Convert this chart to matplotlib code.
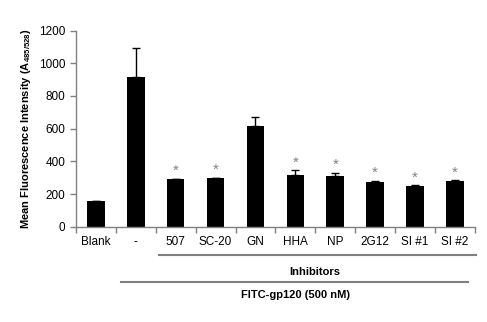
import matplotlib.pyplot as plt
from matplotlib.transforms import blended_transform_factory

plt.rcParams['font.family'] = ['Liberation Sans', 'DejaVu Sans']

categories = ["Blank", "-", "507", "SC-20", "GN", "HHA", "NP", "2G12", "SI #1", "SI #2"]
means = [157, 918, 290, 296, 618, 315, 310, 276, 251, 278]
errors = [0, 176, 3, 1, 52, 30, 19, 4, 2, 6]
significant = [False, False, True, True, False, True, True, True, True, True]

fig = plt.figure(figsize=(4.87, 3.22), dpi=100)
ax = fig.add_axes([0.156, 0.296, 0.819, 0.609])

x = list(range(len(categories)))
ax.bar(x, means, width=0.44, color="black", zorder=2)
ax.errorbar(x, means, yerr=[[0] * len(errors), errors], fmt="none",
            ecolor="black", elinewidth=1, capsize=3, capthick=1, zorder=3)

for xi, m, e, s in zip(x, means, errors, significant):
    if s:
        ax.text(xi, m + e + 6, "*", ha="center", va="bottom",
                fontsize=11, color="#808080")

ax.set_xlim(-0.5, len(categories) - 0.5)
ax.set_ylim(0, 1200)
ax.set_yticks(range(0, 1201, 200))
ax.set_xticks([i - 0.5 for i in range(len(categories) + 1)])
ax.set_xticklabels([])
ax.set_xticks(x, minor=True)
ax.set_xticklabels(categories, minor=True)
ax.tick_params(axis="x", which="major", direction="out", length=4,
               color="#808080", width=1)
ax.tick_params(axis="x", which="minor", length=0, pad=7, labelsize=8.5)
ax.tick_params(axis="y", direction="out", length=4, color="#808080",
               width=1, labelsize=8.5)

for side in ["top", "right"]:
    ax.spines[side].set_visible(False)
for side in ["left", "bottom"]:
    ax.spines[side].set_color("#808080")
    ax.spines[side].set_linewidth(1)

ax.set_ylabel("Mean Fluorescence Intensity (A$_{\\mathregular{485/528}}$)",
              fontsize=8, fontweight="bold", labelpad=4)

trans = blended_transform_factory(ax.transData, ax.transAxes)
ax.plot([1.58, 9.53], [-0.144, -0.144], color="#808080", lw=1.5,
        transform=trans, clip_on=False)
ax.text(5.49, -0.23, "Inhibitors", ha="center", va="center", fontsize=8,
        fontweight="bold", transform=trans)
ax.plot([0.63, 9.32], [-0.281, -0.281], color="#808080", lw=1.5,
        transform=trans, clip_on=False)
ax.text(5.0, -0.348, "FITC-gp120 (500 nM)", ha="center", va="center",
        fontsize=8, fontweight="bold", transform=trans)

fig.savefig("out.png", dpi=100)
